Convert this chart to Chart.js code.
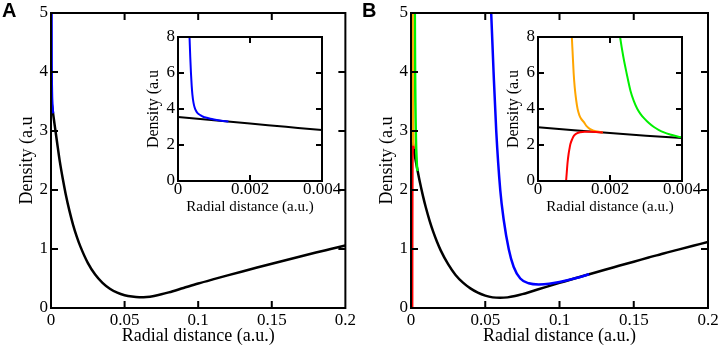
<!DOCTYPE html>
<html><head><meta charset="utf-8">
<script src="https://cdn.jsdelivr.net/npm/chart.js@4.4.1/dist/chart.umd.min.js"></script>
<style>
html,body{margin:0;padding:0;background:#fff;}
#wrap{position:relative;width:718px;height:345px;overflow:hidden;background:#fff;}
canvas{position:absolute;}
.lab{position:absolute;font-family:"Liberation Sans",Arial,sans-serif;font-weight:bold;font-size:20px;line-height:20px;color:#000;}
</style></head><body>
<div id="wrap">
<canvas id="mainA" width="360" height="345" style="left:0;top:0"></canvas>
<canvas id="insetA" width="220" height="195" style="left:130px;top:25px"></canvas>
<canvas id="mainB" width="370" height="345" style="left:360px;top:0"></canvas>
<canvas id="insetB" width="220" height="195" style="left:490px;top:25px"></canvas>
<div class="lab" style="left:2px;top:0">A</div>
<div class="lab" style="left:362px;top:0">B</div>
</div>
<script>
// ---- tick values ----
const xTicksMain = [0, 0.05, 0.1, 0.15, 0.2];
const yTicksMain = [0, 1, 2, 3, 4, 5];
const xTicksInset = [0, 0.002, 0.004];
const yTicksInset = [0, 2, 4, 6, 8];
const xTitle = 'Radial distance (a.u.)';
const yTitle = 'Density (a.u';

// ---- panel A ----
const rBlackA = [0,0.001,0.002,0.003,0.004,0.006,0.008,0.01,0.0125,0.015,0.0175,0.02,0.025,0.03,0.035,0.04,0.045,0.05,0.055,0.06,0.065,0.07,0.075,0.08,0.09,0.1,0.11,0.12,0.13,0.14,0.15,0.16,0.17,0.18,0.19,0.2];
const dBlackA = [3.55,3.37,3.19,3.01,2.83,2.48,2.19,1.93,1.65,1.41,1.21,1.04,0.765,0.567,0.427,0.327,0.26,0.217,0.193,0.183,0.187,0.205,0.232,0.265,0.34,0.415,0.485,0.553,0.62,0.686,0.751,0.815,0.878,0.94,1.0,1.06];
const rBlueA = [0.0003,0.00032,0.00034,0.00036,0.00038,0.0004,0.00043,0.00046,0.0005,0.00055,0.00062,0.0007,0.0008,0.0009,0.001,0.0012,0.0014];
const dBlueA = [8.9,8.0,6.9,6.0,5.3,4.8,4.35,4.1,3.9,3.76,3.66,3.57,3.51,3.46,3.42,3.35,3.30];

// ---- panel B ----
const rBlackB = [0,0.001,0.002,0.003,0.004,0.006,0.008,0.01,0.0125,0.015,0.0175,0.02,0.025,0.03,0.035,0.04,0.045,0.05,0.055,0.06,0.065,0.07,0.075,0.08,0.09,0.1,0.11,0.12,0.13,0.14,0.15,0.16,0.17,0.18,0.19,0.2];
const dBlackB = [2.98,2.82,2.665,2.52,2.385,2.13,1.905,1.703,1.482,1.289,1.122,0.977,0.742,0.56,0.43,0.333,0.261,0.21,0.18,0.172,0.18,0.203,0.235,0.272,0.35,0.425,0.5,0.572,0.645,0.715,0.785,0.855,0.925,0.99,1.055,1.12];
const rBlueB = [0.0532,0.054,0.0556,0.0574,0.0601,0.0624,0.0658,0.0691,0.0736,0.0793,0.086,0.093,0.1,0.11,0.12];
const dBlueB = [5.4,5.0,4.0,3.0,2.0,1.5,1.0,0.7,0.5,0.42,0.40,0.41,0.44,0.5,0.572];
const rRedB = [0.00078,0.0008,0.00082,0.00085,0.00088,0.0009,0.00095,0.001,0.00108,0.00117,0.0013,0.0015,0.0018];
const dRedB = [0,0.5,1.0,1.5,1.85,2.05,2.33,2.52,2.65,2.71,2.735,2.73,2.70];
const rOrangeB = [0.00092,0.00094,0.00096,0.00099,0.00102,0.00106,0.0011,0.00115,0.0012,0.00127,0.00135,0.00145,0.00155,0.00165,0.0018];
const dOrangeB = [9.0,8.0,7.2,6.0,5.2,4.5,4.0,3.65,3.45,3.28,3.05,2.88,2.8,2.745,2.70];
const rGreenB = [0.00226,0.00228,0.00237,0.00246,0.00257,0.00266,0.00276,0.00285,0.00295,0.00308,0.00322,0.00336,0.0035,0.0037,0.0039,0.0041,0.0045];
const dGreenB = [8.3,8.0,6.9,6.0,5.0,4.45,4.0,3.72,3.48,3.22,3.0,2.83,2.7,2.57,2.46,2.37,2.32];

const SERIF = '"Liberation Serif", "Times New Roman", serif';
const zip = (r, d) => r.map((v, i) => ({x: v, y: d[i]}));
const fmt = v => String(+Number(v).toFixed(5));

const frame = {
  id: 'frame',
  afterDatasetsDraw(chart, args, opts) {
    const {ctx, chartArea: {left, right, top, bottom}, scales: {x, y}} = chart;
    const L = opts.len;
    ctx.save();
    ctx.strokeStyle = '#000';
    ctx.lineWidth = opts.lw;
    ctx.beginPath();
    x.ticks.forEach(t => {
      if (t.value <= x.min || t.value >= x.max) return;
      const p = x.getPixelForValue(t.value);
      ctx.moveTo(p, bottom); ctx.lineTo(p, bottom - L);
      ctx.moveTo(p, top); ctx.lineTo(p, top + L);
    });
    y.ticks.forEach(t => {
      if (t.value <= y.min || t.value >= y.max) return;
      const p = y.getPixelForValue(t.value);
      ctx.moveTo(left, p); ctx.lineTo(left + L, p);
      ctx.moveTo(right, p); ctx.lineTo(right - L, p);
    });
    ctx.stroke();
    ctx.strokeRect(left, top, right - left, bottom - top);
    ctx.restore();
  }
};

function ds(r, d, color, w) {
  return {data: zip(r, d), borderColor: color, borderWidth: w, pointRadius: 0,
          fill: false, cubicInterpolationMode: 'monotone', borderCapStyle: 'butt', borderJoinStyle: 'round'};
}

function make(id, datasets, o) {
  return new Chart(document.getElementById(id), {
    type: 'line',
    data: {datasets},
    plugins: [frame],
    options: {
      responsive: false, animation: false,
      layout: {padding: o.pad},
      plugins: {legend: {display: false}, tooltip: {enabled: false}, frame: {len: o.tick, lw: 2}},
      scales: {
        x: {
          type: 'linear', min: o.xmin, max: o.xmax,
          afterFit: s => { s.height = o.xh; },
          afterBuildTicks: s => { s.ticks = o.xt.map(v => ({value: v})); },
          grid: {display: false, drawTicks: false}, border: {display: false},
          ticks: {color: '#000', font: {family: SERIF, size: 17, lineHeight: 1}, padding: o.xtp,
                  maxRotation: 0, autoSkip: false, callback: fmt},
          title: {display: true, text: xTitle, color: '#000',
                  font: {family: SERIF, size: o.xtf, lineHeight: 1}, padding: {top: 0, bottom: o.xtb}}
        },
        y: {
          type: 'linear', min: o.ymin, max: o.ymax,
          afterFit: s => { s.width = o.yw; },
          afterBuildTicks: s => { s.ticks = o.yt.map(v => ({value: v})); },
          grid: {display: false, drawTicks: false}, border: {display: false},
          ticks: {color: '#000', font: {family: SERIF, size: 17, lineHeight: 1}, padding: 3,
                  autoSkip: false, callback: fmt},
          title: {display: true, text: yTitle, color: '#000',
                  font: {family: SERIF, size: o.ytf, lineHeight: 1}, padding: {top: o.ytp, bottom: 0}}
        }
      }
    }
  });
}

const mainOpts = (padR) => ({pad: {left: 0, top: 13, right: padR, bottom: 0}, xmin: 0, xmax: 0.2, ymin: 0, ymax: 5,
  xt: xTicksMain, yt: yTicksMain, xh: 37, yw: 51, xtp: 4, xtf: 18, xtb: 0, ytf: 18, ytp: 18, tick: 7});
const insetOpts = {pad: {left: 0, top: 12, right: 28, bottom: 0}, xmin: 0, xmax: 0.004, ymin: 0, ymax: 8,
  xt: xTicksInset, yt: yTicksInset, xh: 39, yw: 48, xtp: 0, xtf: 15, xtb: 5, ytf: 16, ytp: 16, tick: 6};

make('mainA', [
  ds(rBlueA, dBlueA, '#0000ff', 2.5),
  ds(rBlackA, dBlackA, '#000000', 2.5)
], mainOpts(13));

make('insetA', [
  ds(rBlueA, dBlueA, '#0000ff', 2),
  ds(rBlackA, dBlackA, '#000000', 2)
], insetOpts);

make('mainB', [
  ds(rRedB, dRedB, '#ff0000', 2.5),
  ds(rOrangeB, dOrangeB, '#ffa500', 2.5),
  ds(rGreenB, dGreenB, '#00f000', 2.5),
  ds(rBlueB, dBlueB, '#0000ff', 2.5),
  ds(rBlackB, dBlackB, '#000000', 2.5)
], mainOpts(22));

make('insetB', [
  ds(rRedB, dRedB, '#ff0000', 2),
  ds(rOrangeB, dOrangeB, '#ffa500', 2),
  ds(rGreenB, dGreenB, '#00f000', 2),
  ds(rBlackB, dBlackB, '#000000', 2)
], insetOpts);
</script>
</body></html>
